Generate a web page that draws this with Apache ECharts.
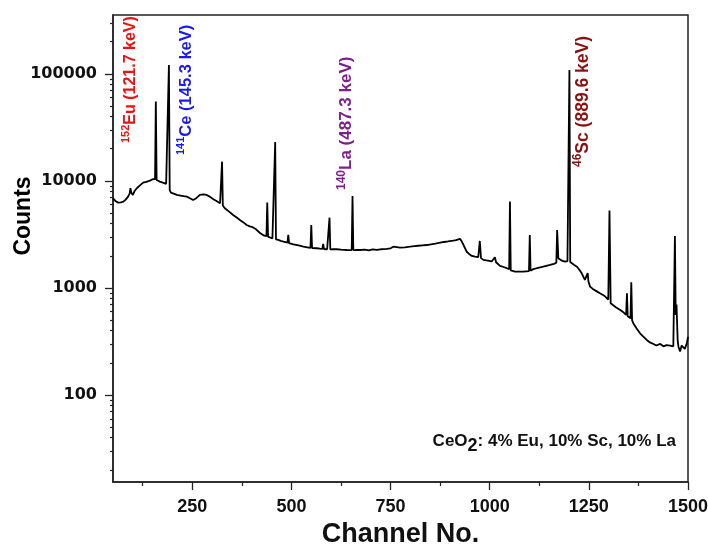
<!DOCTYPE html>
<html>
<head>
<meta charset="utf-8">
<script src="https://cdn.jsdelivr.net/npm/echarts@6/dist/echarts.min.js"></script>
<style>html,body{margin:0;padding:0;background:#fff}#c{width:708px;height:544px}</style>
</head>
<body>
<div id="c"></div>
<script>
const channels = [50,56,63,70,76,82,88,92,94,96,100,105,110,118,126,134,143,150,156,158,160,168,174,179,184,189,191,193,196,203,211,220,228,236,244,252,260,269,278,286,295,303,311,320,323,325,327,332,342,353,362,370,379,387,395,402,410,420,430,437,439,441,446,452,457,459,461,467,473,480,490,492,494,505,518,530,540,548,550,552,564,572,578,580,582,590,594,596,598,606,614,625,639,652,654,656,665,673,685,695,705,715,725,740,750,757,760,774,786,799,810,820,830,841,852,863,875,885,895,908,915,920,925,930,934,942,948,955,963,971,975,978,984,995,1005,1013,1016,1026,1035,1043,1049,1051,1053,1064,1075,1085,1099,1101,1103,1110,1122,1135,1145,1152,1162,1168,1170,1173,1177,1182,1190,1196,1199,1201,1203,1207,1213,1220,1226,1232,1240,1244,1247,1249,1253,1260,1270,1278,1290,1299,1302,1305,1308,1318,1329,1338,1344,1346,1348,1355,1357,1359,1362,1370,1379,1388,1396,1404,1413,1420,1430,1438,1446,1455,1463,1465,1467,1469,1471,1474,1476,1480,1484,1488,1492,1497,1500];
const counts = [6890,6500,6270,6300,6410,6700,7130,7600,8550,7800,7400,8100,8550,9100,9640,9800,10070,10370,10400,55100,10200,9850,9700,9520,9400,9300,121000,8200,7780,7600,7400,7300,7200,7130,6900,6640,6900,7400,7500,7400,7100,6750,6500,6190,6100,15140,5900,5560,5200,4810,4550,4320,4100,3880,3760,3700,3550,3280,3100,3050,6270,3020,2980,2900,2850,23130,2840,2810,2760,2710,2650,3130,2620,2560,2500,2430,2400,2370,3880,2360,2350,2330,2320,2580,2310,2300,2300,4540,2290,2300,2300,2280,2265,2260,7240,2260,2270,2265,2280,2250,2290,2265,2300,2320,2350,2430,2330,2380,2400,2430,2460,2480,2500,2520,2560,2600,2650,2690,2720,2770,2800,2850,2880,2700,2520,2180,2080,1990,1960,1940,2750,1900,1830,1800,1770,1940,1740,1610,1570,1530,1500,6410,1460,1420,1420,1420,1440,3130,1450,1500,1540,1580,1620,1640,1680,1720,3480,1900,1900,1800,1760,1780,1800,108900,1750,1700,1640,1580,1480,1370,1190,1200,1380,1150,1030,980,930,892,840,780,5280,720,693,660,623,590,560,892,545,520,1130,500,468,420,377,350,327,310,300,290,300,285,293,290,285,280,3060,560,700,320,283,255,290,293,270,304,350];

const xTicks = [250,500,750,1000,1250,1500];
const xMinorTicks = [125,375,625,875,1125,1375];
const yTicks = [100,1000,10000,100000];
const yMinorTicks = [20,30,40,50,60,70,80,90,200,300,400,500,600,700,800,900,2000,3000,4000,5000,6000,7000,8000,9000,20000,30000,40000,50000,60000,70000,80000,90000,200000,300000];

const peakLabels = [
  {iso:'152', el:'Eu (121.7 keV)', color:'#ee1111', size:16},
  {iso:'141', el:'Ce (145.3 keV)', color:'#1a1aee', size:16.5},
  {iso:'140', el:'La (487.3 keV)', color:'#7f1f8f', size:17},
  {iso:'46',  el:'Sc (889.6 keV)', color:'#8b1111', size:17.5}
];

const X_MIN = 50, X_MAX = 1500, Y_MIN = 15.4, Y_MAX = 355000;
const boldArial = "'Liberation Sans', Arial, sans-serif";

const chart = echarts.init(document.getElementById('c'), null, {renderer:'canvas'});

const labelPos = [[131,143],[186,155],[346.5,190],[583,167]];
const graphics = peakLabels.map((p,i)=>({
  type:'text', x:labelPos[i][0], y:labelPos[i][1], rotation:Math.PI/2, z:100,
  style:{
    text:'{s|'+p.iso+'}{m|'+p.el+'}',
    textAlign:'left', textVerticalAlign:'middle',
    rich:{
      s:{fontSize:Math.round(p.size*0.68), fontWeight:'bold', fontFamily:boldArial, fill:p.color, lineHeight:12, verticalAlign:'top'},
      m:{fontSize:p.size, fontWeight:'bold', fontFamily:boldArial, fill:p.color, lineHeight:22, verticalAlign:'middle'}
    }
  }
}));
graphics.push({
  type:'text', x:24, y:216, rotation:Math.PI/2, z:100,
  style:{text:'Counts', fontSize:23, fontWeight:'bold', fontFamily:boldArial, fill:'#000', textAlign:'center', textVerticalAlign:'middle'}
});
graphics.push({
  type:'text', x:676, y:441, z:100,
  style:{
    text:'{m|CeO}{b|2}{m|: 4% Eu, 10% Sc, 10% La}',
    textAlign:'right', textVerticalAlign:'middle',
    rich:{
      m:{fontSize:17, fontWeight:'bold', fontFamily:boldArial, fill:'#111', lineHeight:28, verticalAlign:'middle'},
      b:{fontSize:18, fontWeight:'bold', fontFamily:boldArial, fill:'#111', lineHeight:20, verticalAlign:'bottom'}
    }
  }
});

const option = {
  animation:false,
  backgroundColor:'#fff',
  grid:{left:113, right:20, top:15, bottom:62, show:true, borderColor:'#222', borderWidth:1.5, backgroundColor:'transparent', containLabel:false, outerBoundsMode:'none'},
  xAxis:[
    {type:'value', min:X_MIN, max:X_MAX, position:'bottom',
     name:'Channel No.', nameLocation:'middle', nameGap:31,
     nameTextStyle:{fontSize:27, fontWeight:'bold', fontFamily:boldArial, color:'#111'},
     axisLine:{show:true, lineStyle:{color:'#222', width:1.5}},
     axisTick:{show:true, inside:false, length:8, customValues:xTicks, lineStyle:{color:'#222', width:1.3}},
     axisLabel:{show:true, customValues:xTicks, margin:16, fontSize:18, fontWeight:'bold', fontFamily:boldArial, color:'#111',
       formatter:v=>String(Math.round(v))},
     splitLine:{show:false}},
    {type:'value', min:X_MIN, max:X_MAX, position:'bottom',
     axisLine:{show:false},
     axisTick:{show:true, inside:false, length:4, customValues:xMinorTicks, lineStyle:{color:'#222', width:1.2}},
     axisLabel:{show:false}, splitLine:{show:false}}
  ],
  yAxis:[
    {type:'log', logBase:10, min:Y_MIN, max:Y_MAX, position:'left',
     axisLine:{show:true, lineStyle:{color:'#222', width:1.5}},
     axisTick:{show:true, inside:false, length:8, customValues:yTicks, lineStyle:{color:'#222', width:1.3}},
     axisLabel:{show:true, customValues:yTicks, margin:16, fontSize:16, fontWeight:'bold', fontFamily:"'DejaVu Sans', sans-serif", color:'#111',
       formatter:v=>String(Math.round(v))},
     splitLine:{show:false}},
    {type:'log', logBase:10, min:Y_MIN, max:Y_MAX, position:'left',
     axisLine:{show:false},
     axisTick:{show:true, inside:false, length:3, customValues:yMinorTicks, lineStyle:{color:'#222', width:1.2}},
     axisLabel:{show:false}, splitLine:{show:false}}
  ],
  series:[{
    type:'line', xAxisIndex:0, yAxisIndex:0,
    data:channels.map((c,i)=>[c,counts[i]]),
    showSymbol:false, symbol:'none', smooth:false,
    lineStyle:{color:'#000', width:1.8},
    z:5
  }],
  graphic:graphics
};
chart.setOption(option);
</script>
</body>
</html>
